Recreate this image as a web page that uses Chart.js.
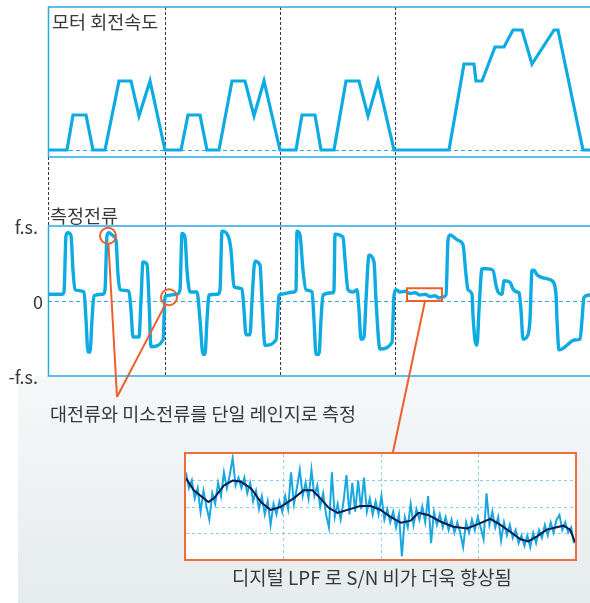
<!DOCTYPE html>
<html>
<head>
<meta charset="utf-8">
<script src="https://cdn.jsdelivr.net/npm/chart.js@4.4.0/dist/chart.umd.min.js"></script>
<style>
  html, body { margin: 0; padding: 0; background: #fff; }
  #page { position: relative; width: 590px; height: 603px; overflow: hidden;
          font-family: "Noto Sans CJK KR", "Noto Sans", sans-serif; color: #383838; }
  #panel { position: absolute; left: 18px; top: 376px; width: 572px; height: 227px;
           background: linear-gradient(#f6f8f9, #e6ebee); }
  #main { position: absolute; left: 0; top: 0; }
  #insetBox { position: absolute; left: 184px; top: 452px; width: 389px; height: 105px;
              border: 2px solid #f26b3d; background: #fff; }
  #inset { display: block; }
  .lbl { position: absolute; font-size: 18.5px; line-height: 20px; white-space: nowrap; }
  .tick { font-size: 18px; }
</style>
</head>
<body>
<div id="page">
  <div id="panel"></div>
  <canvas id="main" width="590" height="603"></canvas>
  <div id="insetBox"><canvas id="inset" width="389" height="105"></canvas></div>
  <div class="lbl" style="left:52px;top:11px">모터 회전속도</div>
  <div class="lbl" style="left:50px;top:205px">측정전류</div>
  <div class="lbl" style="left:50px;top:403px">대전류와 미소전류를 단일 레인지로 측정</div>
  <div class="lbl" style="left:232px;top:567px;font-size:18.8px">디지털 LPF 로 S/N 비가 더욱 향상됨</div>
</div>
<script>
// motor speed (top trace)
const speedT = [0, 19, 25, 38, 45, 57, 71, 83, 91, 102, 117, 133, 140, 152, 159, 171, 184, 197, 206, 216,
  232, 248, 254, 267, 273, 286, 298, 311, 320, 330, 346, 401, 416, 426, 428, 434, 447, 456, 465, 474,
  484, 506, 510, 535, 542];
const speedV = [0, 0, 35, 35, 0, 0, 69, 69, 34, 69, 0, 0, 35, 35, 0, 0, 69, 69, 34, 69,
  0, 0, 35, 35, 0, 0, 69, 69, 34, 69, 0, 0, 86, 86, 69, 69, 103, 103, 120, 120,
  86, 120, 120, 0, 0];

// measured current, % of full scale
const currentT = [1, 14, 16, 18, 20, 23, 25, 27, 36, 38, 40, 42, 44, 46, 55, 57, 59, 61, 65, 68,
  70, 72, 81, 83, 85, 91, 93, 95, 99, 101, 103, 115, 117,
  118, 129, 132, 134, 137, 139, 142, 149, 152, 155, 157, 159, 161, 170, 172, 174, 180, 183, 186, 194,
  196, 198, 202, 204, 207, 212, 214, 217, 228, 231,
  233, 246, 248, 249, 252, 255, 258, 264, 266, 268, 271, 273, 275, 285, 286, 287, 295, 297, 300, 305,
  309, 311, 313, 316, 318, 321, 326, 328, 332, 344, 346,
  348, 352, 357, 362, 367, 372, 377, 382, 387, 391, 394, 398, 400, 402, 410, 415, 418, 420, 424, 425,
  427, 429, 431, 434, 439, 445, 448, 450, 454, 456, 462, 465, 469, 471, 473, 475, 480, 482, 484, 486,
  489, 501, 504, 508, 509, 511, 514, 527, 532, 534, 536, 542];
const currentI = [9, 9, 12, 87, 91, 87, 41, 15, 12, -25, -68, -68, -25, 7, 9, 15, 87, 91, 87, 81,
  35, 15, 13, -12, -48, -48, 1, 52, 49, 1, -61, -52, 5,
  7, 9, 15, 90, 85, 41, 12, 12, -25, -71, -71, -25, 8, 9, 15, 93, 87, 68, 19, 16,
  -12, -45, -45, 1, 53, 48, 1, -59, -52, 7,
  9, 12, 15, 93, 88, 41, 15, 12, -25, -71, -71, -25, 8, 11, 15, 89, 85, 55, 15, 12,
  15, -12, -51, -48, 1, 61, 52, 1, -64, -55, 7,
  15, 12, 13, 10, 11, 8, 9, 6, 7, 4, 5, 8, 81, 88, 81, 75, 35, 15, 9, -19,
  -52, -59, -12, 43, 43, 41, 21, 12, 9, 27, 25, 16, 12, 11, -12, -51, -45, -25, 41, 41,
  35, 29, 27, 9, -25, -65, -64, -52, -51, -25, 5, 8];

const dividerT = [0, 117, 232, 347];
const currentTicks = [100, 0, -100];
const currentTickLabels = ['f.s.', '0', '-f.s.'];

// zoomed detail (inset): raw samples and digital LPF output
const lpfStep = 0.3;
const lpfRaw = [33, 27, 30, 23, 27, 18, 26, 20, 15, 25, 21, 29, 24, 33, 27, 32, 38.5, 28, 31, 27,
  31, 25, 29, 22, 26, 19, 24, 17, 22, 13, 21, 17, 22, 18, 24, 19, 33, 21, 27, 34,
  24, 29, 23, 34, 24, 28, 20, 25, 17, 12, 33, 16, 21, 15, 22, 32, 17, 29, 18, 30,
  19, 31, 18, 23, 17, 22, 17, 24, 15, 19, 14, 18, 12, 17, 1, 16, 12, 21, 13, 19,
  15, 20, 14, 24, 6, 18, 13, 17, 12, 16, 11, 15, 10, 14, 10, 4.5, 14, 10, 15, 11,
  16, 12, 7.5, 25, 13, 18, 12, 16, 7, 14, 9, 13, 8, 11, 6, 9, 5, 9, 4.5, 10,
  6, 11, 8, 13, 9, 14, 10, 15, 16.8, 11, 14, 10, 12, 6];
const lpfT = [0, 0.8, 2.3, 2.9, 3.9, 4.8, 5.6, 6.7, 7.7, 8.7, 9.7, 11.1, 12.1, 13.0, 13.8, 14.7, 15.6, 16.6, 17.9, 19.0,
  20.0, 21.0, 22.1, 23.1, 23.9, 24.9, 26.2, 27.5, 28.9, 29.9, 31.3, 32.3, 33.3, 34.4, 35.2, 36.1, 37.1, 38.8, 39.5, 40.0];
const lpfV = [30.7, 26.2, 21.7, 23.2, 28.0, 29.9, 29.5, 26.9, 21.7, 18.7, 19.8, 23.2, 26.2, 26.2, 23.2, 19.4, 17.6, 18.7, 20.2, 20.2,
  18.7, 16.1, 13.8, 14.6, 17.6, 16.8, 14.2, 12.3, 11.6, 13.1, 15.3, 13.1, 10.5, 7.5, 6.7, 8.6, 11.2, 12.7, 11.2, 6.4];

const BLUE = '#0eabe3';
const FRAME = '#29abe2';
const ORANGE = '#ef5f2c';

// both panels share one plot area; each y axis is ranged so its panel lands in the right band
const speedRange = { min: -226, max: 143, top: 143, bottom: -7 };
const curRange = { min: -100, max: 392, top: 100, bottom: -100 };

const framePlugin = {
  id: 'frame',
  beforeDatasetsDraw(chart) {
    const { ctx, chartArea: a, scales } = chart;
    const x = scales.x, sp = scales.speed, cu = scales.cur;
    ctx.save();
    ctx.lineWidth = 1;
    ctx.strokeStyle = '#3a3a3a';
    ctx.setLineDash([3, 2]);
    dividerT.forEach(t => {
      const px = Math.round(x.getPixelForValue(t)) + 0.5;
      ctx.beginPath(); ctx.moveTo(px, a.top); ctx.lineTo(px, a.bottom); ctx.stroke();
    });
    ctx.strokeStyle = FRAME;
    ctx.setLineDash([4, 3]);
    [sp.getPixelForValue(0), cu.getPixelForValue(0)].forEach(py => {
      const y = Math.round(py) + 0.5;
      ctx.beginPath(); ctx.moveTo(a.left, y); ctx.lineTo(a.right, y); ctx.stroke();
    });
    ctx.setLineDash([]);
    ctx.lineWidth = 1.5;
    [[sp, speedRange], [cu, curRange]].forEach(([s, r]) => {
      const t = s.getPixelForValue(r.top), b = s.getPixelForValue(r.bottom);
      ctx.beginPath();
      ctx.moveTo(a.right, t); ctx.lineTo(a.left + 0.5, t); ctx.lineTo(a.left + 0.5, b); ctx.lineTo(a.right, b);
      ctx.stroke();
    });
    ctx.restore();
  },
  afterDraw(chart) {
    const { ctx, scales } = chart;
    const x = scales.x, cu = scales.cur;
    ctx.save();
    ctx.strokeStyle = ORANGE;
    ctx.lineWidth = 2;
    const apex = { x: 117, y: 397 };
    [[60, 87], [121, 5]].forEach(([t, v]) => {
      const cx = x.getPixelForValue(t), cy = cu.getPixelForValue(v), r = 8;
      ctx.beginPath(); ctx.arc(cx, cy, r, 0, Math.PI * 2); ctx.stroke();
      const dx = apex.x - cx, dy = apex.y - cy, d = Math.hypot(dx, dy);
      ctx.beginPath(); ctx.moveTo(cx + dx / d * r, cy + dy / d * r); ctx.lineTo(apex.x, apex.y); ctx.stroke();
    });
    const rx0 = x.getPixelForValue(359), rx1 = x.getPixelForValue(394);
    const ry0 = cu.getPixelForValue(17), ry1 = cu.getPixelForValue(0);
    ctx.strokeRect(rx0, ry0, rx1 - rx0, ry1 - ry0);
    ctx.beginPath(); ctx.moveTo(x.getPixelForValue(377), ry1); ctx.lineTo(393, 452); ctx.stroke();
    ctx.restore();
  }
};

const mainChart = new Chart(document.getElementById('main'), {
  type: 'line',
  data: {
    datasets: [
      {
        label: '모터 회전속도',
        data: speedT.map((t, i) => ({ x: t, y: speedV[i] })),
        yAxisID: 'speed',
        borderColor: BLUE,
        borderWidth: 3.2,
        pointRadius: 0,
        tension: 0,
      },
      {
        label: '측정전류',
        data: currentT.map((t, i) => ({ x: t, y: currentI[i] })),
        yAxisID: 'cur',
        borderColor: BLUE,
        borderWidth: 3.4,
        pointRadius: 0,
        cubicInterpolationMode: 'monotone',
      },
    ],
  },
  options: {
    responsive: false,
    animation: false,
    devicePixelRatio: 1,
    layout: { padding: { left: 48, top: 7, right: 0, bottom: 227 } },
    plugins: { legend: { display: false }, tooltip: { enabled: false } },
    scales: {
      x: { type: 'linear', min: 0, max: 542, display: false },
      speed: { type: 'linear', min: speedRange.min, max: speedRange.max, display: false },
      cur: { type: 'linear', min: curRange.min, max: curRange.max, display: false },
    },
  },
  plugins: [framePlugin],
});

// f.s. / 0 / -f.s. labels placed with the current axis
const page = document.getElementById('page');
currentTicks.forEach((v, i) => {
  const el = document.createElement('div');
  el.className = 'lbl tick';
  el.textContent = currentTickLabels[i];
  el.style.right = (590 - (i === 1 ? 43 : 38)) + 'px';
  el.style.top = (mainChart.scales.cur.getPixelForValue(v) - 10) + 'px';
  page.appendChild(el);
});

const insetGrid = {
  id: 'insetGrid',
  beforeDatasetsDraw(chart) {
    const { ctx, chartArea: a, scales: { x, y } } = chart;
    ctx.save();
    ctx.strokeStyle = '#86cdef';
    ctx.lineWidth = 1;
    ctx.setLineDash([3, 3]);
    [10, 20, 30].forEach(v => {
      const px = Math.round(x.getPixelForValue(v)) + 0.5;
      ctx.beginPath(); ctx.moveTo(px, a.top); ctx.lineTo(px, a.bottom); ctx.stroke();
      const py = Math.round(y.getPixelForValue(v)) + 0.5;
      ctx.beginPath(); ctx.moveTo(a.left, py); ctx.lineTo(a.right, py); ctx.stroke();
    });
    ctx.restore();
  }
};

new Chart(document.getElementById('inset'), {
  type: 'line',
  data: {
    datasets: [
      {
        label: 'LPF',
        data: lpfT.map((t, i) => ({ x: t, y: lpfV[i] })),
        borderColor: '#0d1b4a',
        borderWidth: 2,
        pointRadius: 0,
        tension: 0,
        order: 0,
      },
      {
        label: 'raw',
        data: lpfRaw.map((v, i) => ({ x: i * lpfStep, y: v })),
        borderColor: '#1aa7e0',
        borderWidth: 2,
        pointRadius: 0,
        tension: 0,
        order: 1,
      },
    ],
  },
  options: {
    responsive: false,
    animation: false,
    devicePixelRatio: 1,
    layout: { padding: 0 },
    plugins: { legend: { display: false }, tooltip: { enabled: false } },
    scales: {
      x: { type: 'linear', min: 0, max: 40, display: false },
      y: { type: 'linear', min: 0, max: 40, display: false },
    },
  },
  plugins: [insetGrid],
});
</script>
</body>
</html>
